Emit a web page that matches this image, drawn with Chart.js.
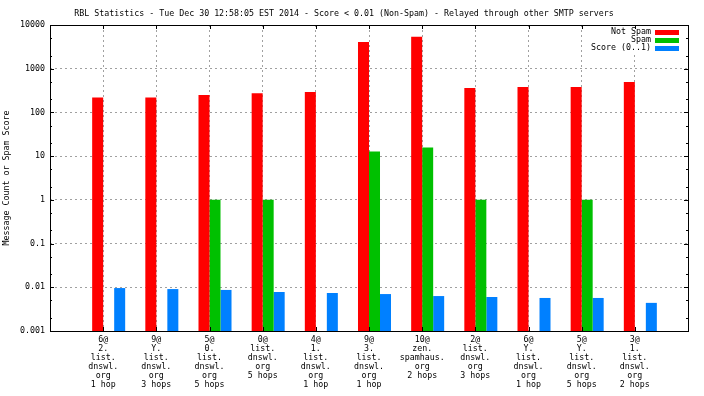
<!DOCTYPE html>
<html>
<head>
<meta charset="utf-8">
<script src="https://cdn.jsdelivr.net/npm/chart.js@4"></script>
<style>
  html, body { margin: 0; padding: 0; background: #fff; }
  #wrap { width: 704px; height: 396px; }
</style>
</head>
<body>
<div id="wrap"><canvas id="rbl" width="704" height="396"></canvas></div>
<script>
// ——— DATA ———
const TITLE = 'RBL Statistics - Tue Dec 30 12:58:05 EST 2014 - Score < 0.01 (Non-Spam) - Relayed through other SMTP servers';
const Y_TITLE = 'Message Count or Spam Score';

const CATEGORIES = [
  ['6@', '2.', 'list.', 'dnswl.', 'org', '1 hop'],
  ['9@', 'Y.', 'list.', 'dnswl.', 'org', '3 hops'],
  ['5@', '0.', 'list.', 'dnswl.', 'org', '5 hops'],
  ['0@', 'list.', 'dnswl.', 'org', '5 hops'],
  ['4@', '1.', 'list.', 'dnswl.', 'org', '1 hop'],
  ['9@', '3.', 'list.', 'dnswl.', 'org', '1 hop'],
  ['10@', 'zen.', 'spamhaus.', 'org', '2 hops'],
  ['2@', 'list.', 'dnswl.', 'org', '3 hops'],
  ['6@', 'Y.', 'list.', 'dnswl.', 'org', '1 hop'],
  ['5@', 'Y.', 'list.', 'dnswl.', 'org', '5 hops'],
  ['3@', '1.', 'list.', 'dnswl.', 'org', '2 hops'],
];

const NOT_SPAM = [220, 220, 249, 276, 292, 4060, 5370, 360, 380, 380, 495];
const SPAM     = [null, null, 1, 1, null, 12.8, 15.8, 1, null, 1, null];
const SCORE    = [0.0096, 0.0091, 0.0087, 0.0078, 0.0074, 0.0070, 0.0063, 0.0060, 0.0057, 0.0057, 0.0044];

const Y_TICKS = [0.001, 0.01, 0.1, 1, 10, 100, 1000, 10000];
const Y_TICK_LABELS = ['0.001', '0.01', '0.1', '1', '10', '100', '1000', '10000'];
const Y_MINOR = [2, 5];

const SERIES = [
  { label: 'Not Spam',     data: NOT_SPAM, color: '#ff0000' },
  { label: 'Spam',         data: SPAM,     color: '#00c000' },
  { label: 'Score (0..1)', data: SCORE,    color: '#0080ff' },
];

const FONT = "'DejaVu Sans Mono', 'Liberation Mono', monospace";
const GRID = '#a0a0a0';

// gnuplot pads the x range by one slot each side
const pad = arr => [null, ...arr, null];
const labels = ['', ...CATEGORIES, ''];

// empty first slot puts the tick between red and green, like gnuplot
const datasets = [{ label: '', data: pad(CATEGORIES.map(() => null)), backgroundColor: 'transparent' }]
  .concat(SERIES.map(s => ({
    label: s.label,
    data: pad(s.data),
    backgroundColor: s.color,
    borderWidth: 0,
  })));

// ——— FRAME, INNER TICKS, LEGEND ———
const gnuFrame = {
  id: 'gnuFrame',
  beforeDatasetsDraw(chart) {
    const { ctx, chartArea: a } = chart;
    // legend box (covers grid)
    ctx.save();
    ctx.fillStyle = '#fff';
    ctx.fillRect(586, a.top + 1, a.right - 587, 26);
    ctx.font = '8.3px ' + FONT;
    ctx.textAlign = 'right';
    ctx.textBaseline = 'middle';
    SERIES.forEach((s, i) => {
      const y = a.top + 7 + i * 8;
      ctx.fillStyle = '#000';
      ctx.fillText(s.label, 651, y);
      ctx.fillStyle = s.color;
      ctx.fillRect(655, y - 2, 24, 5);
    });
    ctx.restore();
  },
  afterDatasetsDraw(chart) {
    const { ctx, chartArea: a, scales } = chart;
    ctx.save();
    ctx.strokeStyle = '#000';
    ctx.lineWidth = 1;
    ctx.beginPath();
    // y ticks, both sides
    Y_TICKS.forEach((v, i) => {
      const y = Math.round(scales.y.getPixelForValue(v)) + 0.5;
      ctx.moveTo(a.left, y); ctx.lineTo(a.left + 4, y);
      ctx.moveTo(a.right, y); ctx.lineTo(a.right - 4, y);
      if (i < Y_TICKS.length - 1) {
        Y_MINOR.forEach(m => {
          const ym = Math.round(scales.y.getPixelForValue(v * m)) + 0.5;
          ctx.moveTo(a.left, ym); ctx.lineTo(a.left + 2, ym);
          ctx.moveTo(a.right, ym); ctx.lineTo(a.right - 2, ym);
        });
      }
    });
    // x ticks, bottom and top
    CATEGORIES.forEach((c, i) => {
      const x = Math.round(scales.x.getPixelForValue(i + 1)) + 0.5;
      ctx.moveTo(x, a.bottom); ctx.lineTo(x, a.bottom - 4);
      ctx.moveTo(x, a.top); ctx.lineTo(x, a.top + 4);
    });
    ctx.stroke();
    ctx.strokeRect(Math.round(a.left) + 0.5, Math.round(a.top) + 0.5,
      Math.round(a.right - a.left), Math.round(a.bottom - a.top));
    ctx.restore();
  }
};

// ——— CHART ———
new Chart(document.getElementById('rbl'), {
  type: 'bar',
  data: { labels, datasets },
  plugins: [gnuFrame],
  options: {
    responsive: false,
    animation: false,
    layout: { padding: { left: 0, right: 16, top: 0, bottom: 0 } },
    datasets: { bar: { barPercentage: 1, categoryPercentage: 0.828 } },
    plugins: {
      legend: { display: false },
      tooltip: { enabled: false },
      title: {
        display: true,
        text: TITLE,
        color: '#000',
        font: { family: FONT, size: 8.3, weight: 'normal', lineHeight: '10px' },
        padding: { top: 9, bottom: 6 },
      },
    },
    scales: {
      x: {
        type: 'category',
        offset: false,
        grid: { color: GRID, drawTicks: false, offset: false },
        border: { display: false, dash: [2, 3] },
        ticks: {
          color: '#000',
          autoSkip: false,
          maxRotation: 0,
          minRotation: 0,
          padding: 4,
          font: { family: FONT, size: 8.3, lineHeight: '9px' },
        },
        afterFit: s => { s.height = 65; },
      },
      y: {
        type: 'logarithmic',
        min: 0.001,
        max: 10000,
        grid: { color: GRID, drawTicks: false },
        border: { display: false, dash: [2, 3] },
        afterBuildTicks: s => { s.ticks = Y_TICKS.map(v => ({ value: v })); },
        ticks: {
          color: '#000',
          padding: 5,
          font: { family: FONT, size: 8.3 },
          callback: v => Y_TICK_LABELS[Y_TICKS.indexOf(v)] ?? '',
        },
        title: {
          display: true,
          text: Y_TITLE,
          color: '#000',
          padding: { top: 2, bottom: 0 },
          font: { family: FONT, size: 8.3, lineHeight: '10px' },
        },
        afterFit: s => { s.width = 50; },
      },
    },
  },
});
</script>
</body>
</html>
